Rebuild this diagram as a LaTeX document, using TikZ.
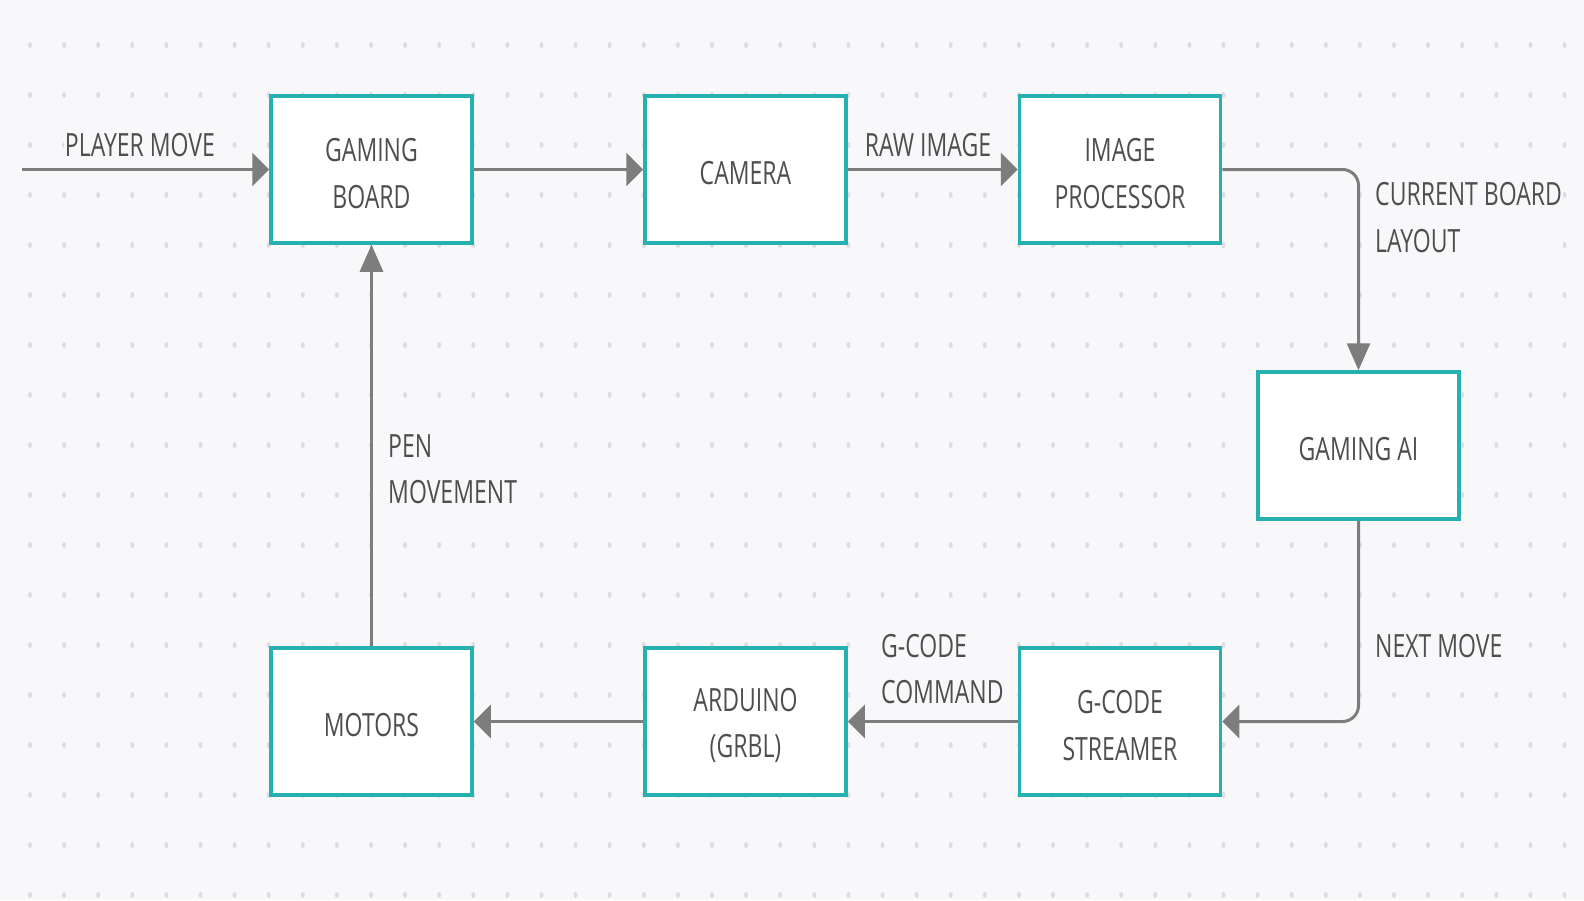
\documentclass[tikz,border=0pt]{standalone}
\usepackage{fontspec}
\setmainfont{Open Sans}[FakeStretch=0.72]
\usetikzlibrary{arrows.meta}

\definecolor{bgpaper}{RGB}{248,248,251}
\definecolor{dotgray}{RGB}{220,220,226}
\definecolor{boxteal}{RGB}{38,176,176}
\definecolor{linegray}{RGB}{125,125,125}
\definecolor{textgray}{RGB}{78,78,78}

\tikzset{
  blockbox/.style={draw=boxteal, line width=3.5pt, fill=white, minimum width=201pt,
    minimum height=147pt, inner sep=0pt},
  blocktext/.style={inner sep=0pt, align=center, text=textgray,
    font=\fontsize{32}{46.5}\selectfont},
  flowlabel/.style={fill=bgpaper, inner sep=1pt, text=textgray,
    font=\fontsize{32}{46.5}\selectfont},
  flowline/.style={draw=linegray, line width=3pt},
  harrow/.style={-{Triangle[length=17pt,width=33pt]}},
  varrow/.style={-{Triangle[length=27pt,width=23pt]}},
}

\begin{document}
\begin{tikzpicture}[x=1pt,y=1pt,yscale=-1]
\fill[bgpaper] (0,0) rectangle (1584,900);
\useasboundingbox (0,0) rectangle (1584,900);

% dotted paper
\foreach \i in {0,...,45}
  \foreach \j in {0,...,17}
    \fill[dotgray] (30+34.1*\i,45+50*\j) ellipse [x radius=2, y radius=3];

% blocks
\node[blockbox] (board)    at (371.5,169.5)  {};
\node[blockbox] (camera)   at (745.5,169.5)  {};
\node[blockbox] (improc)   at (1120,169.5)   {};
\node[blockbox] (gameai)   at (1358.5,445.5) {};
\node[blockbox] (streamer) at (1120,721.5)   {};
\node[blockbox] (arduino)  at (745.5,721.5)  {};
\node[blockbox] (motors)   at (371.5,721.5)  {};

% block texts, set a little below centre
\foreach \blk/\txt in {board/{GAMING\\BOARD}, camera/CAMERA, improc/{IMAGE\\PROCESSOR},
    gameai/{GAMING AI}, streamer/{G-CODE\\STREAMER}, arduino/{ARDUINO\\(GRBL)}, motors/MOTORS}
  \node[blocktext] (\blk-txt) at ([yshift=4pt]\blk.center) {\txt};

\coordinate (playerin) at (22,169.5);

% connectors
\draw[flowline,harrow] (playerin) -- (board.west);
\draw[flowline,harrow] (board.east) -- (camera.west);
\draw[flowline,harrow] (camera.east) -- (improc.west);
\draw[flowline,varrow,rounded corners=16pt] (improc.east) -| (gameai.north);
\draw[flowline,harrow,rounded corners=16pt] (gameai.south) |- (streamer.east);
\draw[flowline,harrow] (streamer.west) -- (arduino.east);
\draw[flowline,harrow] (arduino.west) -- (motors.east);
\draw[flowline,varrow] (motors.north) -- (board.south);

% labels
\node[flowlabel] (lplayer) at (140,145) {PLAYER MOVE};
\node[flowlabel] (lraw)    at (928,145) {RAW IMAGE};
\node[flowlabel,anchor=west,align=left] (llayout) at (1374,217.5) {CURRENT BOARD\\LAYOUT};
\node[flowlabel,anchor=west] (lnext) at (1374,646) {NEXT MOVE};
\node[flowlabel,anchor=west,align=left] (lgcode) at (880,669) {G-CODE\\COMMAND};
\node[flowlabel,anchor=west,align=left] (lpen) at (387,469) {PEN\\MOVEMENT};

\end{tikzpicture}
\end{document}
